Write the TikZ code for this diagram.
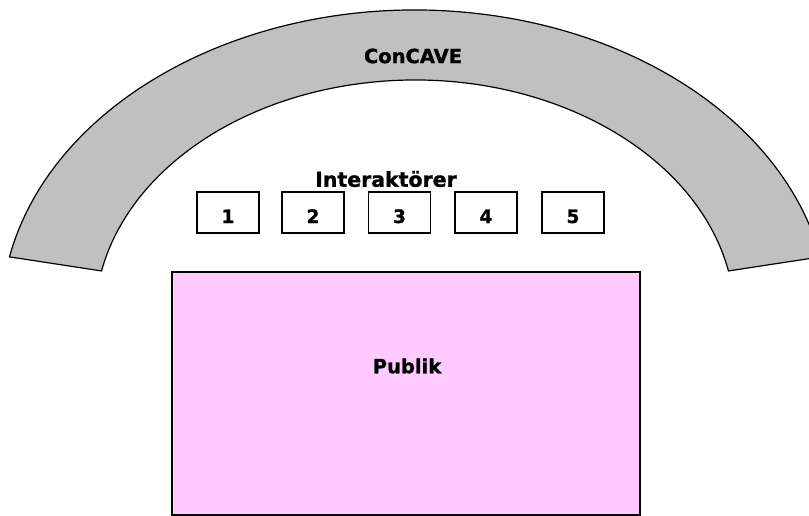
\documentclass[tikz,border=0pt]{standalone}
\usepackage{fontspec}
\usetikzlibrary{calc}
\setmainfont{DejaVu Sans}[BoldFeatures={FakeBold=1.2}]
\definecolor{wallgray}{RGB}{192,192,192}
\definecolor{audpink}{RGB}{255,202,255}
\begin{document}
\begin{tikzpicture}[x=1pt,y=-1pt,
  wall/.style={draw=black,line width=1.2pt,fill=wallgray},
  actor/.style={draw=black,line width=1.2pt,fill=white,minimum width=62pt,
    minimum height=41pt,inner sep=0pt,text height=21pt,text depth=0pt,
    font=\fontsize{18.5}{21}\bfseries},
  audience/.style={draw=black,line width=2pt,fill=audpink,minimum width=468pt,
    minimum height=243pt,inner sep=0pt},
  caption/.style={font=\fontsize{19.5}{22}\bfseries,inner sep=0pt}]
\useasboundingbox (0,0) rectangle (809,516);
\clip (0,0) rectangle (809,516);

% curved screen: band between two concentric ellipses
\coordinate (c) at (415,319);
\draw[wall] (c) ++(-168.4:414 and 309)
  arc[start angle=-168.4,end angle=-11.6,x radius=414,y radius=309]
  -- ($(c)+(-11.6:320 and 239)$)
  arc[start angle=-11.6,end angle=-168.4,x radius=320,y radius=239]
  -- cycle;
\node[caption] (cave) at (413,56) {ConCAVE};

% interactors
\node[caption,font=\fontsize{20.5}{23}\bfseries] (inter) at (386,179) {Interaktörer};
\node[actor] (i1) at (228,212.5) {1};
\node[actor] (i2) at (313,212.5) {2};
\node[actor] (i3) at (399.5,212.5) {3};
\node[actor] (i4) at (486,212.5) {4};
\node[actor] (i5) at (573,212.5) {5};

% audience area
\node[audience] (pub) at (406,393.5) {};
\node[caption] (publik) at (407,366) {Publik};
\end{tikzpicture}
\end{document}
